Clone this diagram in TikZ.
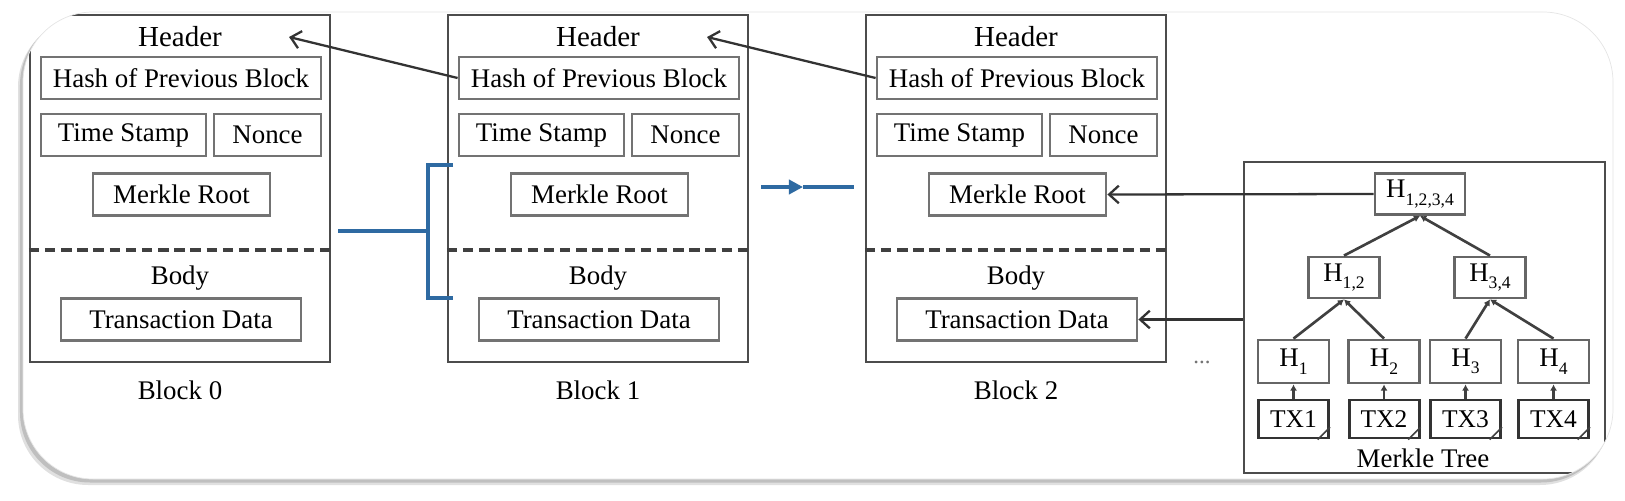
\documentclass[tikz,border=0pt]{standalone}
\usepackage{fontspec}
\setmainfont{Liberation Serif}
\usetikzlibrary{positioning,calc,arrows.meta}
\definecolor{chainblue}{RGB}{46,106,162}
\tikzstyle{blockframe} = [draw=black!70, line width=1.4pt, minimum width=6cm, minimum height=6.94cm, inner sep=0pt]
\tikzstyle{block} = [draw=black!55, line width=1.6pt, minimum height=0.84cm, inner sep=0pt]
\tikzstyle{hnode} = [draw=black!60, line width=1.6pt, minimum width=1.42cm, minimum height=0.84cm, inner sep=0pt]
\tikzstyle{txnode} = [draw=black!80, line width=1.7pt, minimum width=1.4cm, minimum height=0.76cm, inner sep=0pt, font=\fontsize{14.5}{17}\selectfont]
\tikzstyle{divider} = [dash pattern=on 6pt off 3.2pt, line width=2pt, black!75]
\tikzstyle{pointer} = [-{Straight Barb[length=5.5pt,width=10pt]}, line width=1.3pt, black!80]
\tikzstyle{hashup} = [-{Latex[length=3.5pt,width=4pt]}, line width=1.5pt, black!75]
\tikzstyle{bluelink} = [line width=2.2pt, chainblue]
\newcommand{\hsubs}[1]{H\raisebox{-.6ex}{\fontsize{10}{12}\selectfont #1}}

\begin{document}
\begin{tikzpicture}[font=\fontsize{15.3}{18}\selectfont]
\useasboundingbox (0,0) rectangle (32.5,-10.02);
% rounded frame and its shadow
\fill[black!12, rounded corners=1.4cm] (0.36,-0.34) rectangle (32.2,-9.7);
\fill[black!25, rounded corners=1.4cm] (0.4,-0.3) rectangle (32.22,-9.65);
\fill[white, rounded corners=1.4cm] (0.46,-0.24) rectangle (32.26,-9.58);
\begin{scope}
\clip[rounded corners=1.4cm] (0.46,-0.24) rectangle (32.26,-9.58);
\foreach \i in {0,1,2} {
  \begin{scope}[xshift=\i*8.36cm]
  \node[blockframe] (blk\i) at (3.6,-3.77) {};
  \node[font=\fontsize{16.5}{19}\selectfont] (head\i) at (3.6,-0.74) {Header};
  \node[block, minimum width=5.6cm] (hash\i) at (3.62,-1.56) {Hash of Previous Block};
  \node[block, minimum width=3.3cm] (time\i) at (2.47,-2.70) {Time Stamp};
  \node[block, minimum width=2.14cm] (nonce\i) at (5.35,-2.70) {Nonce};
  \node[block, minimum width=3.54cm] (root\i) at (3.63,-3.89) {Merkle Root};
  \draw[divider] ([yshift=-1.23cm]blk\i.west) -- ([yshift=-1.23cm]blk\i.east);
  \node (body\i) at (3.6,-5.56) {Body};
  \node[block, minimum width=4.8cm] (data\i) at (3.62,-6.39) {Transaction Data};
  \node (name\i) at (3.6,-7.8) {Block \i};
  \end{scope}
}
% chain links
\coordinate (brkA) at (6.76,-4.62);
\coordinate (brkB) at (8.56,-4.62);
\coordinate (brkT) at (9.06,-3.3);
\coordinate (brkD) at (9.06,-5.96);
\draw[bluelink] (brkA) -- (brkB);
\draw[bluelink] (brkT) -| (brkB) |- (brkD);
\coordinate (arrA) at (15.22,-3.74);
\coordinate (arrM) at (16.06,-3.74);
\coordinate (arrB) at (17.08,-3.74);
\draw[bluelink, -{Triangle[length=8pt,width=8pt]}] (arrA) -- (arrM);
\draw[bluelink] (arrM) -- (arrB);
\draw[pointer] (hash1.west) -- ([xshift=1.22cm]head0.east);
\draw[pointer] (hash2.west) -- ([xshift=1.22cm]head1.east);
\node (more) [text=black!55, font=\fontsize{13}{13}\selectfont] at (24.04,-7.24) {...};
% merkle tree
\node[blockframe, minimum width=7.22cm, minimum height=6.22cm] (mtree) at (28.49,-6.35) {};
\node[hnode, minimum width=1.8cm, minimum height=0.82cm] (h1234) at (28.4,-3.88) {\hsubs{1,2,3,4}};
\node[hnode, minimum height=0.82cm] (h12) at (26.88,-5.55) {\hsubs{1,2}};
\node[hnode, minimum height=0.82cm] (h34) at (29.8,-5.55) {\hsubs{3,4}};
\foreach \j/\x in {1/25.87,2/27.68,3/29.31,4/31.07} {
  \node[hnode, minimum height=0.86cm] (h\j) at (\x,-7.23) {\hsubs{\j}};
  \node[txnode] (tx\j) at (\x,-8.38) {TX\j};
  \draw[hashup] (tx\j) -- (h\j);
  \draw[black!75, line width=0.9pt] ([xshift=-7pt]tx\j.south east) -- ([yshift=7pt]tx\j.south east);
}
\draw[hashup] (h1.north) -- (h12.south);
\draw[hashup] (h2.north) -- (h12.south);
\draw[hashup] (h3.north) -- (h34.south);
\draw[hashup] (h4.north) -- (h34.south);
\draw[hashup] (h12.north) -- (h1234.south);
\draw[hashup] (h34.north) -- (h1234.south);
\node (mtname) at (28.46,-9.16) {Merkle Tree};
\draw[pointer] (h1234.west) -- (root2.east);
\draw[pointer] (mtree.west |- data2.east) -- (data2.east);
\end{scope}
\draw[black!10, rounded corners=1.4cm] (0.46,-0.24) rectangle (32.26,-9.58);
\end{tikzpicture}
\end{document}
